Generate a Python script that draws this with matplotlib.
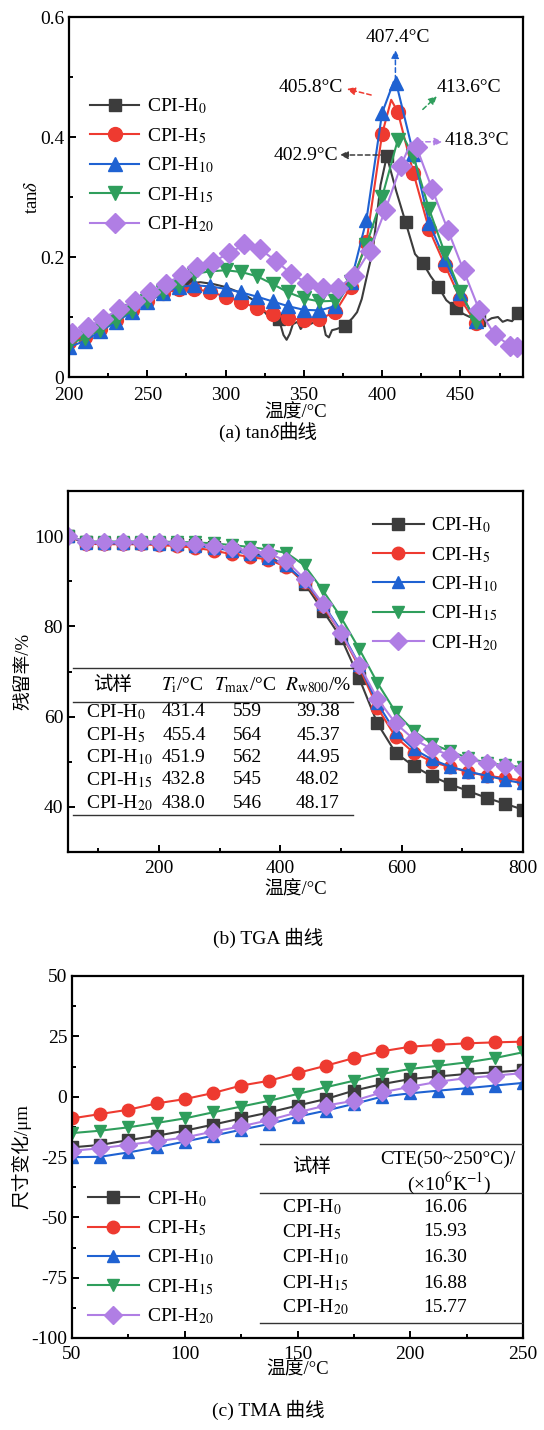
import matplotlib
matplotlib.use("Agg")
import matplotlib.pyplot as plt
from matplotlib.lines import Line2D
from matplotlib.offsetbox import TextArea, HPacker, AnnotationBbox

plt.rcParams['font.family'] = ['Liberation Serif', 'Noto Sans CJK SC']
plt.rcParams['mathtext.fontset'] = 'stix'
plt.rcParams['axes.unicode_minus'] = False

# ---------------- data ----------------
labels = [r'CPI-H$_{0}$', r'CPI-H$_{5}$', r'CPI-H$_{10}$', r'CPI-H$_{15}$', r'CPI-H$_{20}$']
colors = ['#3c3c3c', '#ee3a30', '#1f62d2', '#2f9e5c', '#b07ee4']
markers = ['s', 'o', '^', 'v', 'D']

# (a) tan delta
a_h0_t = [200, 210, 220, 230, 240, 250, 260, 270, 276, 284, 292, 300, 310, 320, 326, 329, 334, 337, 339,
          341, 343, 346, 348, 351, 354, 357, 360, 362, 364, 366, 368, 371, 376, 381, 384, 387, 390, 394,
          399, 403, 409, 415, 421, 426, 431, 436, 441, 447, 452, 456, 462, 466, 470, 474, 477, 480, 483,
          487, 490]
a_h0_v = [0.058, 0.068, 0.080, 0.095, 0.110, 0.125, 0.140, 0.150, 0.156, 0.158, 0.155, 0.150, 0.140, 0.125,
          0.105, 0.100, 0.097, 0.070, 0.062, 0.072, 0.088, 0.092, 0.080, 0.090, 0.088, 0.092, 0.090, 0.095,
          0.070, 0.066, 0.078, 0.080, 0.085, 0.098, 0.108, 0.130, 0.165, 0.210, 0.320, 0.368, 0.310, 0.258,
          0.205, 0.190, 0.168, 0.150, 0.128, 0.115, 0.105, 0.100, 0.095, 0.092, 0.098, 0.100, 0.092, 0.095,
          0.093, 0.106, 0.108]
a_h0_mk = [8, 16, 32, 39, 41, 43, 45, 47, 50, 57]

a_h5_t = [200, 210, 220, 230, 240, 250, 260, 270, 280, 290, 300, 310, 320, 330, 340, 350, 360, 370, 380,
          390, 400, 405.8, 410, 420, 430, 440, 450, 460]
a_h5_v = [0.058, 0.066, 0.080, 0.095, 0.112, 0.127, 0.140, 0.146, 0.147, 0.142, 0.134, 0.125, 0.115, 0.105,
          0.098, 0.095, 0.097, 0.108, 0.150, 0.225, 0.405, 0.462, 0.442, 0.340, 0.246, 0.187, 0.130, 0.090]

a_h10_t = [200, 210, 220, 230, 240, 250, 260, 270, 280, 290, 300, 310, 320, 330, 340, 350, 360, 370, 380,
           390, 400, 407.4, 409, 420, 430, 440, 450, 460]
a_h10_v = [0.050, 0.060, 0.076, 0.092, 0.108, 0.125, 0.140, 0.150, 0.153, 0.151, 0.147, 0.141, 0.134, 0.126,
           0.118, 0.112, 0.111, 0.118, 0.158, 0.262, 0.440, 0.492, 0.490, 0.372, 0.257, 0.196, 0.140, 0.093]

a_h15_t = [200, 210, 220, 230, 240, 250, 260, 270, 280, 290, 300, 310, 320, 330, 340, 350, 360, 370, 380,
           390, 400, 410, 413.6, 420, 430, 440, 450, 460]
a_h15_v = [0.055, 0.065, 0.079, 0.094, 0.110, 0.126, 0.141, 0.152, 0.172, 0.176, 0.178, 0.175, 0.168, 0.155,
           0.141, 0.131, 0.126, 0.127, 0.158, 0.220, 0.300, 0.395, 0.400, 0.368, 0.280, 0.207, 0.142, 0.092]

a_h20_t = [202, 212, 222, 232, 242, 252, 262, 272, 282, 292, 302, 312, 322, 332, 342, 352, 362, 372, 382,
           392, 402, 412, 418.3, 422, 432, 442, 452, 462, 472, 482, 486]
a_h20_v = [0.073, 0.083, 0.097, 0.113, 0.127, 0.141, 0.155, 0.170, 0.184, 0.192, 0.206, 0.221, 0.213, 0.194,
           0.172, 0.157, 0.148, 0.149, 0.168, 0.210, 0.278, 0.352, 0.390, 0.383, 0.313, 0.245, 0.178, 0.112,
           0.070, 0.052, 0.050]

a_peak_text = ['402.9°C', '405.8°C', '407.4°C', '413.6°C', '418.3°C']

# (b) TGA
b_t = [50, 80, 110, 140, 170, 200, 230, 260, 290, 320, 350, 380, 410, 440, 470, 500, 530, 560, 590, 620,
       650, 680, 710, 740, 770, 800]
b_h0 = [100, 98.6, 98.5, 98.5, 98.5, 98.4, 98.3, 98.0, 97.6, 97.0, 96.3, 95.5, 93.5, 89.5, 83.5, 77.5, 68.5,
        58.5, 52.0, 49.0, 46.8, 45.0, 43.5, 42.0, 40.7, 39.4]
b_h5 = [100, 98.3, 98.2, 98.2, 98.2, 98.0, 97.8, 97.4, 96.8, 96.0, 95.4, 94.8, 93.2, 89.8, 84.5, 78.5, 71.0,
        62.0, 55.5, 52.0, 50.0, 48.8, 47.7, 46.9, 46.4, 45.8]
b_h10 = [100, 98.5, 98.4, 98.4, 98.4, 98.3, 98.2, 97.9, 97.4, 96.8, 96.0, 95.2, 93.5, 90.0, 85.0, 79.0, 71.5,
         63.0, 56.5, 52.8, 50.5, 48.9, 47.8, 46.9, 46.0, 45.2]
b_h15 = [100, 98.8, 98.8, 98.8, 98.8, 98.8, 98.7, 98.6, 98.4, 98.0, 97.6, 97.0, 96.3, 93.5, 88.0, 82.0, 75.0,
         67.5, 61.0, 56.8, 54.0, 52.3, 50.8, 49.8, 49.2, 48.8]
b_h20 = [100, 98.7, 98.7, 98.7, 98.7, 98.6, 98.5, 98.3, 97.9, 97.4, 96.8, 96.2, 94.5, 90.5, 85.0, 78.5, 71.5,
         64.0, 58.5, 55.0, 52.8, 51.5, 50.5, 49.7, 49.0, 48.4]
tga_samples = [r'CPI-H$_{0}$', r'CPI-H$_{5}$', r'CPI-H$_{10}$', r'CPI-H$_{15}$', r'CPI-H$_{20}$']
tga_ti = ['431.4', '455.4', '451.9', '432.8', '438.0']
tga_tmax = ['559', '564', '562', '545', '546']
tga_rw = ['39.38', '45.37', '44.95', '48.02', '48.17']

# (c) TMA
c_t = [50, 62.5, 75, 87.5, 100, 112.5, 125, 137.5, 150, 162.5, 175, 187.5, 200, 212.5, 225, 237.5, 250]
c_h0 = [-21.0, -20.0, -18.0, -16.2, -14.1, -11.6, -9.0, -6.5, -3.7, -1.0, 2.5, 5.2, 7.3, 8.4, 9.4, 10.1, 11.0]
c_h5 = [-9.0, -7.2, -5.4, -2.8, -1.0, 1.5, 4.6, 6.6, 9.8, 12.8, 16.0, 18.8, 20.7, 21.5, 22.1, 22.5, 22.8]
c_h10 = [-25.1, -24.9, -23.1, -21.0, -18.6, -16.2, -13.7, -11.3, -8.3, -5.8, -3.0, 0.0, 1.4, 2.5, 3.5, 4.6, 5.7]
c_h15 = [-15.1, -14.1, -12.7, -10.9, -9.0, -6.5, -4.1, -1.7, 1.1, 3.9, 6.6, 9.4, 11.5, 12.8, 14.2, 16.0, 18.4]
c_h20 = [-22.4, -21.4, -19.9, -18.5, -16.9, -14.5, -12.3, -9.7, -6.5, -3.7, -1.7, 1.8, 4.1, 6.2, 7.7, 8.7, 9.8]
cte_values = ['16.06', '15.93', '16.30', '16.88', '15.77']

# ---------------- figure ----------------
W, H = 544, 1430
fig = plt.figure(figsize=(W / 100, H / 100), dpi=100)


def fx(px):
    return px / W


def fy(py):
    return 1 - py / H


def add_ax(l, t, r, b):
    return fig.add_axes([fx(l), fy(b), (r - l) / W, (b - t) / H])


FS = 14


def style(ax, xpad=5.5):
    for s in ax.spines.values():
        s.set_linewidth(1.6)
    ax.tick_params(which='both', direction='in', labelsize=FS, top=False, right=False, width=1.4)
    ax.tick_params(axis='x', which='both', pad=xpad)
    ax.tick_params(which='major', length=5)
    ax.tick_params(which='minor', length=3)


ms_a = {'s': 8, 'o': 10, '^': 10, 'v': 10, 'D': 10}
ms_b = {'s': 8, 'o': 9, '^': 9, 'v': 9, 'D': 9}

# ---- (a) ----
axa = add_ax(69, 17, 523, 377)
a_series = [(a_h0_t, a_h0_v, a_h0_mk),
            (a_h5_t, a_h5_v, [i for i in range(len(a_h5_t)) if i != 21]),
            (a_h10_t, a_h10_v, [i for i in range(len(a_h10_t)) if i != 21]),
            (a_h15_t, a_h15_v, [i for i in range(len(a_h15_t)) if i != 22]),
            (a_h20_t, a_h20_v, [i for i in range(len(a_h20_t)) if i != 22])]
for (t, v, mk), c, m, lab in zip(a_series, colors, markers, labels):
    axa.plot(t, v, color=c, lw=1.5, marker=m, ms=ms_a[m], markevery=mk, mec=c, mfc=c, label=lab)
axa.set_xlim(200, 490)
axa.set_ylim(0, 0.6)
axa.set_xticks([200, 250, 300, 350, 400, 450])
axa.set_xticks([225, 275, 325, 375, 425, 475], minor=True)
axa.set_yticks([0, 0.2, 0.4, 0.6])
axa.set_yticklabels(['0', '0.2', '0.4', '0.6'])
axa.set_yticks([0.1, 0.3, 0.5], minor=True)
style(axa, xpad=7)
axa.set_xlabel('温度/°C', fontsize=13.5, labelpad=0)
axa.set_ylabel(r'tan$\delta$', fontsize=13.5, labelpad=-1)
axa.legend(loc='upper left', bbox_to_anchor=(0.03, 0.80), frameon=False, fontsize=FS,
           handlelength=2.5, handletextpad=0.4, labelspacing=0.5, borderaxespad=0)

arrow_kw = dict(arrowstyle='-|>', lw=1.1, linestyle=(0, (3, 2)), mutation_scale=12, shrinkA=0, shrinkB=0)
# black 402.9
axa.annotate('', xy=(373, 0.370), xytext=(402, 0.370), arrowprops=dict(color=colors[0], **arrow_kw))
axa.text(372, 0.370, a_peak_text[0], ha='right', va='center', fontsize=FS)
# red 405.8
axa.annotate('', xy=(377.5, 0.480), xytext=(393, 0.470), arrowprops=dict(color=colors[1], **arrow_kw))
axa.text(375, 0.483, a_peak_text[1], ha='right', va='center', fontsize=FS)
# blue 407.4
axa.annotate('', xy=(408.5, 0.545), xytext=(408.5, 0.495), arrowprops=dict(color=colors[2], **arrow_kw))
axa.text(410, 0.565, a_peak_text[2], ha='center', va='center', fontsize=FS)
# green 413.6
axa.annotate('', xy=(435, 0.468), xytext=(426, 0.446), arrowprops=dict(color=colors[3], **arrow_kw))
axa.text(435, 0.482, a_peak_text[3], ha='left', va='center', fontsize=FS)
# purple 418.3
axa.annotate('', xy=(438.5, 0.392), xytext=(423, 0.392), arrowprops=dict(color=colors[4], **arrow_kw))
axa.text(440, 0.394, a_peak_text[4], ha='left', va='center', fontsize=FS)

cap = HPacker(children=[TextArea('(a) tan', textprops=dict(fontsize=FS)),
                        TextArea('δ', textprops=dict(fontsize=FS, style='italic')),
                        TextArea('曲线', textprops=dict(fontsize=FS))],
              align='baseline', pad=0, sep=0)
fig.add_artist(AnnotationBbox(cap, (fx(268), fy(433)), xycoords='figure fraction', frameon=False,
                              box_alignment=(0.5, 0.5), pad=0))

# ---- (b) ----
axb = add_ax(68, 491, 523, 852)
for v, c, m, lab in zip([b_h0, b_h5, b_h10, b_h15, b_h20], colors, markers, labels):
    axb.plot(b_t, v, color=c, lw=1.5, marker=m, ms=ms_b[m], mec=c, mfc=c, label=lab)
axb.set_xlim(50, 800)
axb.set_ylim(30, 110)
axb.set_xticks([200, 400, 600, 800])
axb.set_xticks([100, 300, 500, 700], minor=True)
axb.set_yticks([40, 60, 80, 100])
axb.set_yticks([50, 70, 90], minor=True)
style(axb)
axb.set_xlabel('温度/°C', fontsize=13.5, labelpad=3)
axb.set_ylabel('残留率/%', fontsize=13.5, labelpad=1)
axb.legend(loc='upper right', bbox_to_anchor=(0.975, 0.97), frameon=False, fontsize=FS,
           handlelength=2.6, handletextpad=0.4, labelspacing=0.5, borderaxespad=0.3)

# table (b)
for yl in (668, 702, 815):
    fig.add_artist(Line2D([fx(73), fx(353)], [fy(yl), fy(yl)], color='#333333', lw=1.0))
hdr_y = 685
fig.text(fx(113), fy(hdr_y), '试样', ha='center', va='center', fontsize=FS)
fig.text(fx(182), fy(hdr_y), r'$T_{\mathrm{i}}$/°C', ha='center', va='center', fontsize=FS)
fig.text(fx(245), fy(hdr_y), r'$T_{\mathrm{max}}$/°C', ha='center', va='center', fontsize=FS)
fig.text(fx(318), fy(hdr_y), r'$R_{\mathrm{w800}}$/%', ha='center', va='center', fontsize=FS)
for i, ry in enumerate([712, 735, 757, 780, 803]):
    fig.text(fx(86), fy(ry), tga_samples[i], ha='left', va='center', fontsize=FS)
    fig.text(fx(184), fy(ry), tga_ti[i], ha='center', va='center', fontsize=FS)
    fig.text(fx(247), fy(ry), tga_tmax[i], ha='center', va='center', fontsize=FS)
    fig.text(fx(318), fy(ry), tga_rw[i], ha='center', va='center', fontsize=FS)

fig.text(fx(268), fy(938), '(b) TGA 曲线', ha='center', va='center', fontsize=FS)

# ---- (c) ----
axc = add_ax(72, 976, 523, 1338)
for v, c, m, lab in zip([c_h0, c_h5, c_h10, c_h15, c_h20], colors, markers, labels):
    axc.plot(c_t, v, color=c, lw=1.5, marker=m, ms=ms_b[m], mec=c, mfc=c, label=lab)
axc.set_xlim(50, 250)
axc.set_ylim(-100, 50)
axc.set_xticks([50, 100, 150, 200, 250])
axc.set_xticks([75, 125, 175, 225], minor=True)
axc.set_yticks([-100, -75, -50, -25, 0, 25, 50])
axc.set_yticks([-87.5, -62.5, -37.5, -12.5, 12.5, 37.5], minor=True)
style(axc)
axc.set_xlabel('温度/°C', fontsize=13.5, labelpad=-1)
axc.set_ylabel('尺寸变化/μm', fontsize=13.5, labelpad=0)
axc.legend(loc='lower left', bbox_to_anchor=(0.01, 0.0), frameon=False, fontsize=FS,
           handlelength=2.6, handletextpad=0.4, labelspacing=0.5, borderaxespad=0.2)

# table (c)
for yl in (1144, 1193, 1323):
    fig.add_artist(Line2D([fx(260), fx(522)], [fy(yl), fy(yl)], color='#333333', lw=1.0))
fig.text(fx(312), fy(1167), '试样', ha='center', va='center', fontsize=FS)
fig.text(fx(448), fy(1159), 'CTE(50~250°C)/', ha='center', va='center', fontsize=FS)
fig.text(fx(449), fy(1183), r'(×10$^{6}$K$^{-1}$)', ha='center', va='center', fontsize=FS)
for i, ry in enumerate([1207, 1232, 1257, 1283, 1307]):
    fig.text(fx(282), fy(ry), tga_samples[i], ha='left', va='center', fontsize=FS)
    fig.text(fx(445), fy(ry), cte_values[i], ha='center', va='center', fontsize=FS)

fig.text(fx(268), fy(1410), '(c) TMA 曲线', ha='center', va='center', fontsize=FS)

fig.savefig('out.png', dpi=100)
